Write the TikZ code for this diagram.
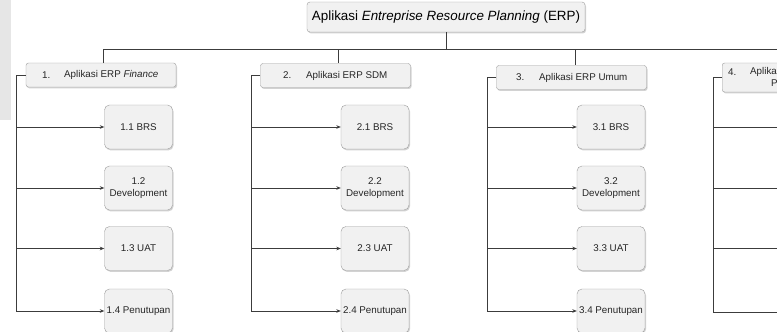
\documentclass[tikz,border=0pt]{standalone}
\usepackage{fontspec}
\setmainfont{Liberation Sans}
\usetikzlibrary{shadows,arrows.meta}
\definecolor{boxfill}{HTML}{F1F1F1}
\definecolor{boxline}{HTML}{9C9C9C}
\definecolor{wirec}{HTML}{3C3C3C}
\definecolor{stripc}{HTML}{E6E6E6}
\begin{document}
\begin{tikzpicture}[x=1pt,y=-1pt,
  shad/.style={drop shadow={shadow xshift=1pt,shadow yshift=-1.4pt,opacity=0.35,fill=gray}},
  rootbox/.style={draw=boxline,fill=boxfill,rounded corners=3pt,minimum width=278pt,minimum height=30pt,inner sep=0pt,font=\fontsize{13.4}{15}\selectfont,shad},
  lvbox/.style={draw=boxline,fill=boxfill,rounded corners=2.5pt,minimum width=150pt,minimum height=24pt,inner sep=0pt,shad},
  lvtext/.style={inner sep=0pt,anchor=west,font=\fontsize{9.8}{11.5}\selectfont,text=black!85},
  kidbox/.style={draw=boxline,fill=boxfill,rounded corners=5pt,minimum width=68pt,minimum height=44pt,inner sep=0pt,align=center,font=\fontsize{9.8}{11.5}\selectfont,text=black!85,shad},
  wire/.style={draw=wirec,line width=0.8pt},
  arr/.style={wire,-{Stealth[length=4.5pt,width=3.6pt]}}]
\useasboundingbox (0,0) rectangle (777,332);
\clip (0,0) rectangle (777,332);
\fill[white] (0,0) rectangle (777,332);
\fill[stripc] (0,0) rectangle (11,120);

% root
\node[rootbox] (root) at (446,17) {Aplikasi \textit{Entreprise Resource Planning} (ERP)};

% bus
\coordinate (bus) at (446,49);
\coordinate (b1) at (103,49);
\coordinate (b2) at (338,49);
\coordinate (b3) at (575,49);
\coordinate (bend) at (790,49);

% level 2 boxes
\node[lvbox] (a1) at (101,75) {};
\node[lvtext] (a1n) at (42,75) {1.};
\node[lvtext] (a1t) at (64,75) {Aplikasi ERP \textit{Finance}};

\node[lvbox] (a2) at (335.5,75.5) {};
\node[lvtext] (a2n) at (283,75.5) {2.};
\node[lvtext] (a2t) at (306,75.5) {Aplikasi ERP SDM};

\node[lvbox] (a3) at (571.5,77.5) {};
\node[lvtext] (a3n) at (516,77.5) {3.};
\node[lvtext] (a3t) at (539,77.5) {Aplikasi ERP Umum};

\node[lvbox,anchor=west,minimum width=170pt,minimum height=29pt] (a4) at (722,77.5) {};
\node[lvtext] (a4n) at (728,72) {4.};
\node[lvtext] (a4t) at (750,72) {Aplikasi ERP};
\node[lvtext] (a4t2) at (771,83.5) {P};

\draw[wire] (root.south) -- (bus);
\draw[wire] (b1) -- (bend);
\draw[wire] (b1) -- (b1 |- a1.north);
\draw[wire] (b2) -- (b2 |- a2.north);
\draw[wire] (b3) -- (b3 |- a3.north);

% children
\node[kidbox] (c11) at (138.5,127) {1.1 BRS};
\node[kidbox] (c12) at (138.5,188) {1.2\\Development};
\node[kidbox] (c13) at (138.5,248.5) {1.3 UAT};
\node[kidbox] (c14) at (138.5,311) {1.4 Penutupan};

\node[kidbox] (c21) at (375,127) {2.1 BRS};
\node[kidbox] (c22) at (375,188) {2.2\\Development};
\node[kidbox] (c23) at (375,248.5) {2.3 UAT};
\node[kidbox] (c24) at (375,311) {2.4 Penutupan};

\node[kidbox] (c31) at (611,127) {3.1 BRS};
\node[kidbox] (c32) at (611,188) {3.2\\Development};
\node[kidbox] (c33) at (611,248.5) {3.3 UAT};
\node[kidbox] (c34) at (611,311) {3.4 Penutupan};

\coordinate (d41) at (790,127);
\coordinate (d42) at (790,188);
\coordinate (d43) at (790,248.5);
\coordinate (d44) at (790,312);

% spines
\coordinate (s1) at (16,75);
\coordinate (s2) at (251,75.5);
\coordinate (s3) at (487,77.5);
\coordinate (s4) at (713,77.5);

\draw[wire] (a1.west) -- (s1) -- (s1 |- c14);
\draw[wire] (a2.west) -- (s2) -- (s2 |- c24);
\draw[wire] (a3.west) -- (s3) -- (s3 |- c34);
\draw[wire] (a4.west) -- (s4) -- (s4 |- d44);

\foreach \k in {1,2,3,4}{
  \draw[arr] (s1 |- c1\k) -- (c1\k.west);
  \draw[arr] (s2 |- c2\k) -- (c2\k.west);
  \draw[arr] (s3 |- c3\k) -- (c3\k.west);
  \draw[arr] (s4 |- d4\k) -- (d4\k);
}
\end{tikzpicture}
\end{document}
